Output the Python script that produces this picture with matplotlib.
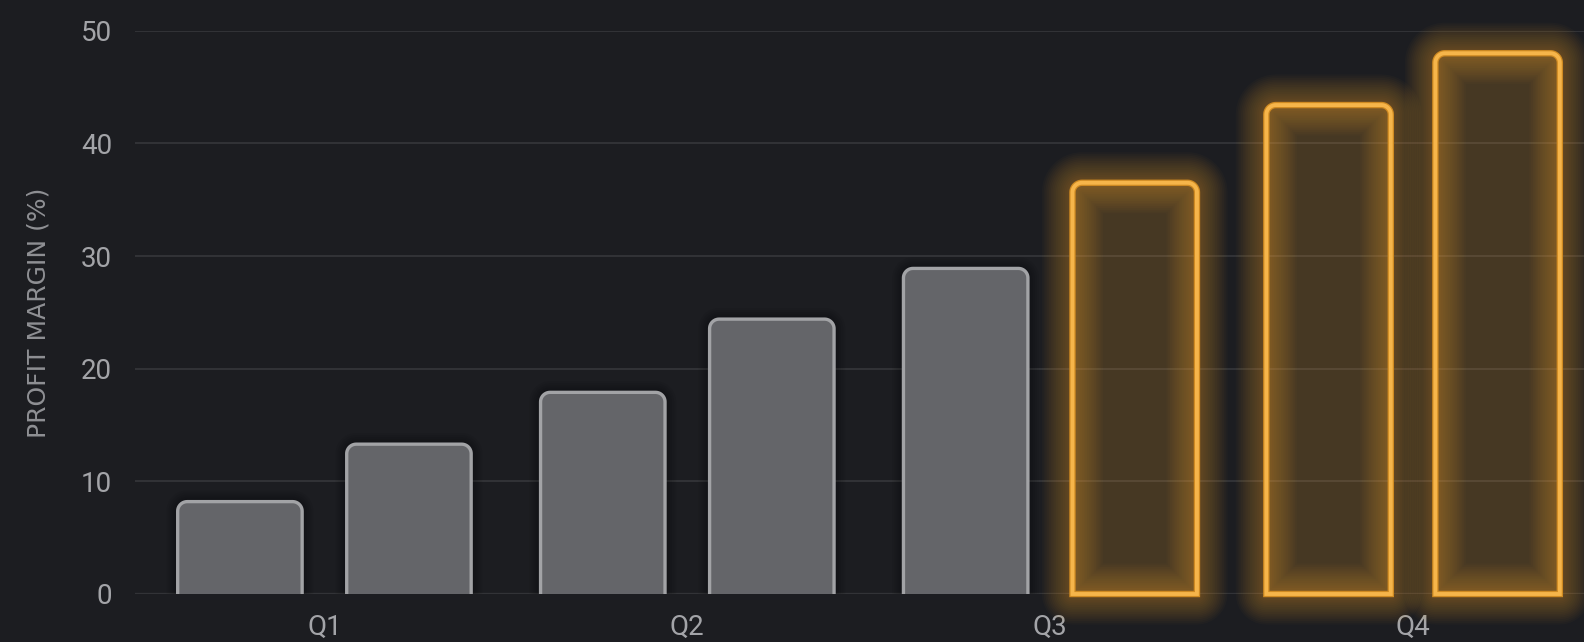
import numpy as np
import matplotlib
matplotlib.use("Agg")
import matplotlib.pyplot as plt
from matplotlib.path import Path
from matplotlib.patches import PathPatch

# ---- data ----
quarters = ["Q1", "Q2", "Q3", "Q4"]
first_bar = [8.2, 17.9, 28.9, 43.4]
second_bar = [13.3, 24.4, 36.5, 48.0]
first_highlight = [False, False, False, True]
second_highlight = [False, False, True, True]
y_ticks = [0, 10, 20, 30, 40, 50]
y_label = "PROFIT MARGIN (%)"

BG = "#1c1d21"
GRID = "#36373b"
TXT = "#a3a4a8"
GREY_FACE = "#646569"
GREY_EDGE = "#a2a3a6"
GOLD = "#f6b54a"
GOLD_GLOW = "#f0a530"
GOLD_DARK = "#cf8a22"

plt.rcParams["font.family"] = ["Roboto", "DejaVu Sans"]

W, H = 1584, 642
fig = plt.figure(figsize=(W / 100, H / 100), dpi=100, facecolor=BG)
ax = fig.add_axes([135 / W, 1 - 594 / H, 1 - 135 / W, (594 - 30.7) / H])
ax.set_facecolor(BG)
ax.set_xlim(-0.522, 3.471)
ax.set_ylim(0, 50)

for s in ax.spines.values():
    s.set_visible(False)
ax.set_yticks(y_ticks)
ax.set_xticks(np.arange(len(quarters)))
ax.set_xticklabels(quarters)
ax.tick_params(axis="both", length=0, colors=TXT, labelsize=20)
ax.tick_params(axis="y", pad=16.5)
ax.tick_params(axis="x", pad=14)
for t in y_ticks[1:]:
    ax.axhline(t, color=GRID, lw=1.2, zorder=0)
ax.axhline(0, color="#323337", lw=2.4, zorder=0.5)
ax.set_ylabel(y_label, color="#8f9094", fontsize=18, family="DejaVu Sans",
              va="center")
ax.yaxis.set_label_coords((39 - 135) / (W - 135), 0.5)

# pixel scale for rounding corners
p0 = ax.transData.transform((0, 0))
p1 = ax.transData.transform((1, 1))
px_x = p1[0] - p0[0]
px_y = p1[1] - p0[1]
r_px = 9.5
rx = r_px / px_x
ry = r_px / px_y

offset = 0.2329
width = 0.343


def bar_path(xc, h, closed=True):
    x0, x1 = xc - width / 2, xc + width / 2
    t = np.linspace(0, np.pi / 2, 12)
    pts = [(x0, 0), (x0, h - ry)]
    for a in t:
        pts.append((x0 + rx - rx * np.cos(a), h - ry + ry * np.sin(a)))
    for a in t:
        pts.append((x1 - rx + rx * np.sin(a), h - ry + ry * np.cos(a)))
    pts.append((x1, h - ry))
    pts.append((x1, 0))
    if closed:
        pts.append((x0, 0))
        codes = [Path.MOVETO] + [Path.LINETO] * (len(pts) - 2) + [Path.CLOSEPOLY]
    else:
        codes = [Path.MOVETO] + [Path.LINETO] * (len(pts) - 1)
    return Path(pts, codes)


def draw_bar(xc, h, gold):
    path = bar_path(xc, h, True)
    if gold:
        for lw in np.linspace(44, 6, 16):
            ax.add_patch(PathPatch(path, fill=False, edgecolor=GOLD_GLOW, lw=lw,
                                   alpha=0.026, clip_on=False, zorder=2,
                                   joinstyle="round"))
        ax.add_patch(PathPatch(path, facecolor=GOLD_GLOW, edgecolor="none",
                               alpha=0.2, zorder=2.5, clip_on=False))
        ax.add_patch(PathPatch(path, fill=False, edgecolor=GOLD_DARK, lw=4.6,
                               zorder=3, clip_on=False, joinstyle="miter"))
        ax.add_patch(PathPatch(path, fill=False, edgecolor=GOLD, lw=2.8,
                               zorder=3.2, clip_on=False, joinstyle="miter"))
    else:
        for lw in np.linspace(16, 4, 5):
            ax.add_patch(PathPatch(path, fill=False, edgecolor="black", lw=lw,
                                   alpha=0.06, zorder=1.5))
        ax.add_patch(PathPatch(path, facecolor=GREY_FACE, edgecolor="none",
                               zorder=2))
        ax.add_patch(PathPatch(bar_path(xc, h, False), fill=False,
                               edgecolor=GREY_EDGE, lw=2.4, zorder=3))


for i in range(len(quarters)):
    draw_bar(i - offset, first_bar[i], first_highlight[i])
    draw_bar(i + offset, second_bar[i], second_highlight[i])

fig.savefig("out.png", dpi=100, facecolor=BG)
